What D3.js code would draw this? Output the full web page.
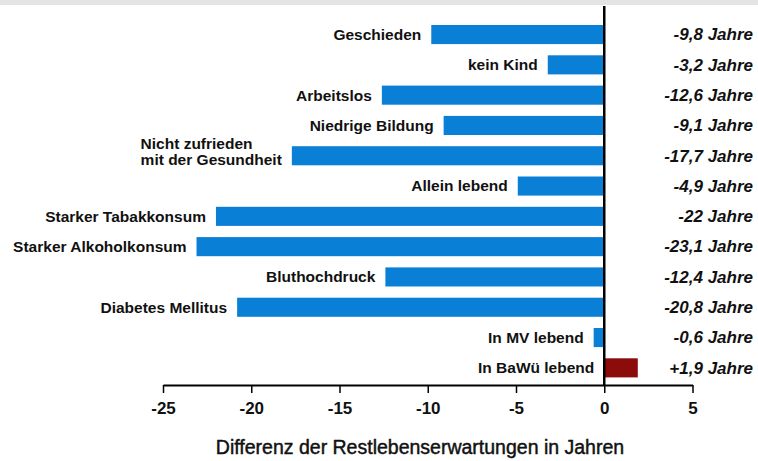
<!DOCTYPE html>
<html>
<head>
<meta charset="utf-8">
<script src="https://cdn.jsdelivr.net/npm/d3@7"></script>
<style>
  html, body { margin: 0; padding: 0; background: #fff; }
  svg { display: block; }
</style>
</head>
<body>
<svg id="chart" width="758" height="461"></svg>
<script>
// Risk factors and their difference in remaining life expectancy (years)
const categories = [
  "Geschieden",
  "kein Kind",
  "Arbeitslos",
  "Niedrige Bildung",
  "Nicht zufrieden\nmit der Gesundheit",
  "Allein lebend",
  "Starker Tabakkonsum",
  "Starker Alkoholkonsum",
  "Bluthochdruck",
  "Diabetes Mellitus",
  "In MV lebend",
  "In BaWü lebend"
];
const values = [-9.8, -3.2, -12.6, -9.1, -17.7, -4.9, -22, -23.1, -12.4, -20.8, -0.6, 1.9];
const xTicks = [-25, -20, -15, -10, -5, 0, 5];
const axisTitle = "Differenz der Restlebenserwartungen in Jahren";

const W = 758, H = 461;
const svg = d3.select("#chart");
const FONT = "'Liberation Sans', Arial, Helvetica, sans-serif";

// thin grey band along the top edge
svg.append("rect").attr("x", 0).attr("y", 0).attr("width", W).attr("height", 5).attr("fill", "#e4e4e4");

const x = d3.scaleLinear().domain([-25, 5]).range([163, 692.5]);
const y = d3.scaleBand()
  .domain(categories)
  .range([19.4, 383])
  .paddingInner(0.37)
  .paddingOuter(0.185);

const fmt = v => (v > 0 ? "+" : "") + String(v).replace(".", ",") + " Jahre";

// bars
svg.append("g").selectAll("rect")
  .data(categories)
  .join("rect")
  .attr("x", (d, i) => x(Math.min(0, values[i])))
  .attr("y", d => y(d))
  .attr("width", (d, i) => Math.abs(x(values[i]) - x(0)))
  .attr("height", y.bandwidth())
  .attr("fill", (d, i) => values[i] >= 0 ? "#8c0c0c" : "#0a7fd6");

// category labels
const labels = svg.append("g")
  .attr("font-family", FONT)
  .attr("font-weight", "bold")
  .attr("font-size", 15.5)
  .attr("fill", "#111");

categories.forEach((c, i) => {
  const right = x(Math.min(0, values[i])) - 10;
  const cy = y(c) + y.bandwidth() / 2;
  const lines = c.split("\n");
  if (lines.length === 1) {
    labels.append("text")
      .attr("x", right)
      .attr("y", cy + 5.4)
      .attr("text-anchor", "end")
      .text(c);
  } else {
    // multi-line label: left-aligned block whose widest line ends at the bar
    const t = labels.append("text").attr("y", cy - 6.5);
    lines.forEach((ln, k) => {
      t.append("tspan").attr("dy", k === 0 ? 0 : 15.5).text(ln);
    });
    const widths = [];
    t.selectAll("tspan").each(function () { widths.push(this.getComputedTextLength()); });
    const left = right - d3.max(widths);
    t.selectAll("tspan").attr("x", left);
  }
});

// value labels on the right
svg.append("g")
  .attr("font-family", FONT)
  .attr("font-weight", "bold")
  .attr("font-style", "italic")
  .attr("font-size", 17)
  .attr("fill", "#111")
  .selectAll("text")
  .data(categories)
  .join("text")
  .attr("x", 753)
  .attr("y", d => y(d) + y.bandwidth() / 2 + 5.8)
  .attr("text-anchor", "end")
  .text((d, i) => fmt(values[i]));

// zero line
svg.append("line")
  .attr("x1", x(0)).attr("x2", x(0))
  .attr("y1", 6).attr("y2", 385)
  .attr("stroke", "#000").attr("stroke-width", 2.5);

// x axis
const axis = svg.append("g")
  .attr("transform", "translate(0,385)")
  .call(d3.axisBottom(x).tickValues(xTicks).tickSize(8).tickSizeOuter(0).tickPadding(9).tickFormat(d => String(d)));
axis.select(".domain").attr("stroke", "#000").attr("stroke-width", 2);
axis.selectAll(".tick line").attr("stroke", "#000").attr("stroke-width", 1.5);
axis.selectAll(".tick text")
  .attr("font-family", FONT)
  .attr("font-weight", "bold")
  .attr("font-size", 17)
  .attr("fill", "#111");

// axis title
svg.append("text")
  .attr("x", 420)
  .attr("y", 454)
  .attr("text-anchor", "middle")
  .attr("font-family", FONT)
  .attr("font-size", 19.5)
  .attr("fill", "#111")
  .attr("stroke", "#111")
  .attr("stroke-width", 0.45)
  .text(axisTitle);
</script>
</body>
</html>
